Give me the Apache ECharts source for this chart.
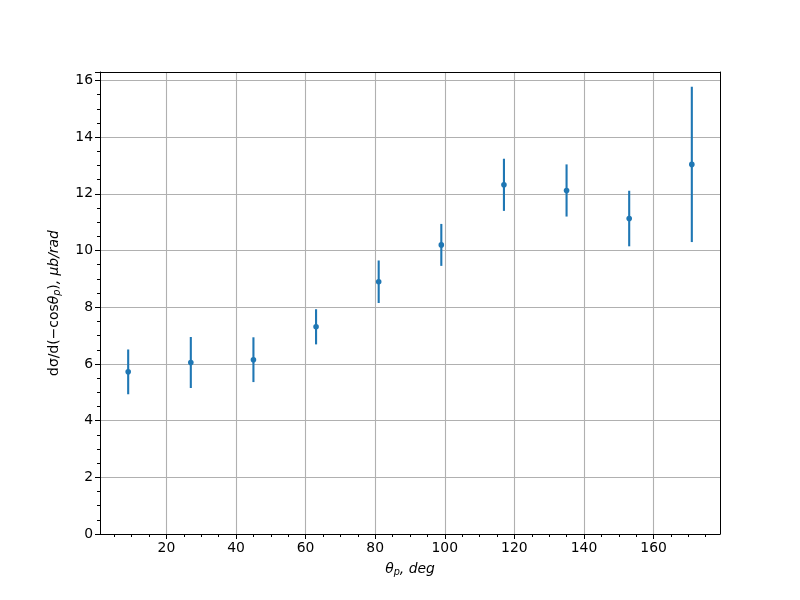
<!DOCTYPE html>
<html>
<head>
<meta charset="utf-8">
<script src="https://cdn.jsdelivr.net/npm/echarts@6/dist/echarts.min.js"></script>
<style>html,body{margin:0;padding:0;background:#fff;}#c{width:800px;height:600px;}</style>
</head>
<body>
<div id="c"></div>
<script>
const theta = [9, 27, 45, 63, 81, 99, 117, 135, 153, 171];
const sigma = [5.72, 6.05, 6.15, 7.31, 8.90, 10.20, 12.32, 12.12, 11.13, 13.04];
const errs  = [0.79, 0.90, 0.79, 0.62, 0.75, 0.74, 0.92, 0.92, 0.98, 2.74];
const xMajorTicks = [20, 40, 60, 80, 100, 120, 140, 160];
const xMinorTicks = [5, 10, 15, 25, 30, 35, 45, 50, 55, 65, 70, 75, 85, 90, 95, 105, 110, 115, 125, 130, 135, 145, 150, 155, 165, 170, 175];

const FONT = 'DejaVu Sans';
const FS = 13.9;
const C = '#1f77b4';

const pts = theta.map((t, i) => [t, sigma[i]]);
const bars = theta.map((t, i) => [t, sigma[i] - errs[i], sigma[i] + errs[i]]);

const chart = echarts.init(document.getElementById('c'), null, {renderer: 'canvas'});
chart.setOption({
  animation: false,
  backgroundColor: '#fff',
  grid: {left: 100, right: 80, top: 72, bottom: 66, show: false},
  xAxis: [{
    type: 'value', min: 0.9, max: 179.1,
    name: '{i|θ}{s|p}{i|, deg}', nameLocation: 'middle', nameGap: 27,
    nameTextStyle: {rich: {
      i: {fontFamily: FONT, fontSize: FS, fontStyle: 'italic', color: '#000'},
      s: {fontFamily: FONT, fontSize: 9.7, fontStyle: 'italic', color: '#000', verticalAlign: 'bottom', padding: [6, 0, 0, 0]}
    }},
    axisLine: {show: true, onZero: false, lineStyle: {color: '#000', width: 1}},
    axisTick: {show: true, customValues: xMajorTicks, length: 5, lineStyle: {color: '#000', width: 1}},
    axisLabel: {customValues: xMajorTicks, margin: 7, fontFamily: FONT, fontSize: FS, color: '#000'},
    splitLine: {show: true, lineStyle: {color: '#b0b0b0', width: 1.1}},
    minorTick: {show: false}
  }, {
    type: 'value', min: 0.9, max: 179.1, position: 'bottom', offset: 0,
    axisLine: {show: false},
    axisTick: {show: true, customValues: xMinorTicks, length: 3, lineStyle: {color: '#000', width: 1}},
    axisLabel: {show: false, customValues: xMinorTicks},
    splitLine: {show: false}
  }, {
    type: 'value', min: 0.9, max: 179.1, position: 'top', offset: 0,
    axisLine: {show: true, onZero: false, lineStyle: {color: '#000', width: 1}},
    axisTick: {show: false}, axisLabel: {show: false}, splitLine: {show: false}
  }],
  yAxis: [{
    type: 'value', min: 0, max: 16.3, interval: 2,
    name: '{n|dσ/d(−cos}{i|θ}{s|p}{n|)}{i|, μb/rad}', nameLocation: 'middle', nameGap: 38, nameRotate: 90,
    nameTextStyle: {rich: {
      n: {fontFamily: FONT, fontSize: FS, color: '#000'},
      i: {fontFamily: FONT, fontSize: FS, fontStyle: 'italic', color: '#000'},
      s: {fontFamily: FONT, fontSize: 9.7, fontStyle: 'italic', color: '#000', verticalAlign: 'bottom', padding: [6, 0, 0, 0]}
    }},
    axisLine: {show: true, onZero: false, lineStyle: {color: '#000', width: 1}},
    axisTick: {show: true, length: 5, lineStyle: {color: '#000', width: 1}},
    axisLabel: {margin: 7, fontFamily: FONT, fontSize: FS, color: '#000',
      formatter: v => (v % 2 === 0 && v <= 16) ? String(v) : ''},
    minorTick: {show: true, splitNumber: 4, length: 3, lineStyle: {color: '#000', width: 1}},
    splitLine: {show: true, lineStyle: {color: '#b0b0b0', width: 1.1}}
  }, {
    type: 'value', min: 0, max: 16.3, position: 'right', offset: 0,
    axisLine: {show: true, onZero: false, lineStyle: {color: '#000', width: 1}},
    axisTick: {show: false}, axisLabel: {show: false}, splitLine: {show: false}
  }],
  series: [{
    type: 'custom',
    xAxisIndex: 0, yAxisIndex: 0,
    data: bars,
    renderItem: function (params, api) {
      const x = api.value(0);
      const lo = api.coord([x, api.value(1)]);
      const hi = api.coord([x, api.value(2)]);
      return {type: 'line', shape: {x1: lo[0], y1: lo[1], x2: hi[0], y2: hi[1]},
        style: {stroke: C, lineWidth: 2.1}};
    },
    z: 3
  }, {
    type: 'scatter',
    xAxisIndex: 0, yAxisIndex: 0,
    data: pts,
    symbol: 'circle',
    symbolSize: 5.6,
    itemStyle: {color: C, opacity: 1},
    z: 4
  }]
});
</script>
</body>
</html>
